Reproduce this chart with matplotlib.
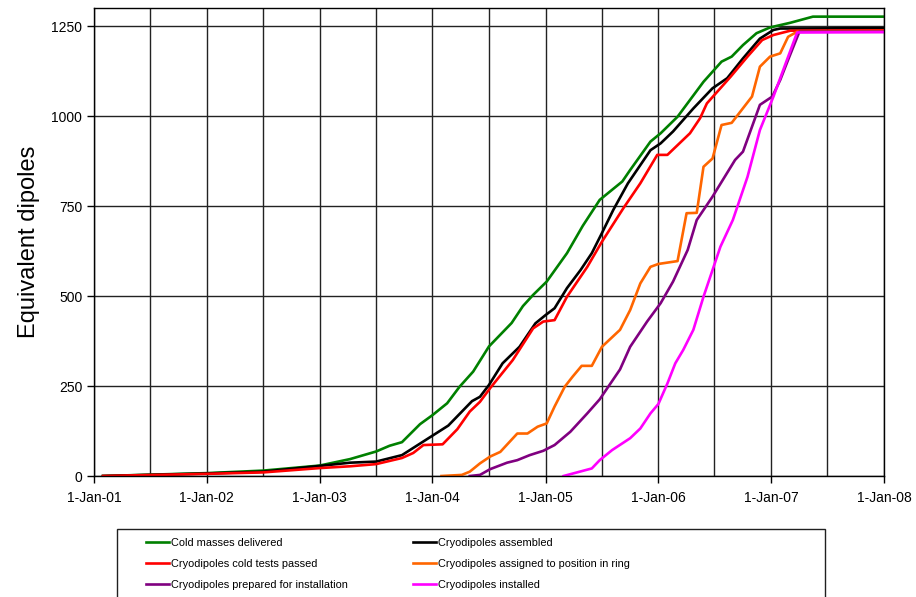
import datetime as dt
import matplotlib
matplotlib.use("Agg")
import matplotlib.pyplot as plt
from matplotlib.patches import Rectangle

# values: (decimal year, equivalent dipoles)
green_yr = [2001.08, 2001.65, 2002.0, 2002.5, 2003.0, 2003.27, 2003.5, 2003.62, 2003.73, 2003.89,
            2004.0, 2004.13, 2004.24, 2004.36, 2004.5, 2004.7, 2004.8, 2004.89, 2005.01, 2005.19,
            2005.33, 2005.48, 2005.68, 2005.75, 2005.93, 2006.02, 2006.17, 2006.4, 2006.56,
            2006.65, 2006.75, 2006.87, 2006.99, 2007.17, 2007.37, 2008.0]
green_val = [0, 5, 8, 15, 29, 47, 68, 84, 94, 144,
             169, 202, 248, 290, 360, 425, 472, 503, 540, 619,
             695, 767, 818, 850, 929, 952, 998, 1095, 1151,
             1165, 1197, 1230, 1246, 1259, 1276, 1276]

black_yr = [2001.08, 2002.0, 2002.5, 2003.0, 2003.27, 2003.5, 2003.73, 2004.0, 2004.14, 2004.35,
            2004.42, 2004.5, 2004.62, 2004.77, 2004.91, 2005.0, 2005.08, 2005.19, 2005.31, 2005.41,
            2005.5, 2005.6, 2005.73, 2005.93, 2006.02, 2006.13, 2006.31, 2006.48, 2006.61, 2006.75,
            2006.9, 2007.02, 2007.08, 2008.0]
black_val = [0, 7, 12, 28, 37, 40, 58, 112, 140, 208,
             220, 253, 313, 359, 424, 447, 466, 522, 572, 619,
             675, 739, 813, 905, 924, 957, 1021, 1077, 1105, 1160,
             1215, 1239, 1243, 1244]

red_yr = [2001.08, 2002.0, 2002.5, 2003.0, 2003.27, 2003.5, 2003.73, 2003.83, 2003.92, 2004.09,
          2004.22, 2004.33, 2004.42, 2004.51, 2004.71, 2004.89, 2004.98, 2005.08, 2005.19, 2005.37,
          2005.5, 2005.69, 2005.84, 2005.99, 2006.08, 2006.28, 2006.37, 2006.43, 2006.64, 2006.79,
          2006.92, 2007.02, 2007.17, 2008.0]
red_val = [0, 6, 10, 22, 27, 33, 50, 64, 86, 88,
           130, 179, 206, 244, 322, 410, 429, 433, 498, 581,
           651, 744, 813, 892, 892, 952, 994, 1035, 1109, 1165,
           1211, 1225, 1237, 1238]

orange_yr = [2004.08, 2004.26, 2004.33, 2004.42, 2004.51, 2004.6, 2004.75, 2004.84, 2004.93, 2005.01,
             2005.08, 2005.17, 2005.24, 2005.32, 2005.41, 2005.5, 2005.66, 2005.75, 2005.84, 2005.93,
             2006.0, 2006.17, 2006.25, 2006.34, 2006.4, 2006.48, 2006.56, 2006.65, 2006.83, 2006.9,
             2006.99, 2007.08, 2007.15, 2007.23, 2008.0]
orange_val = [0, 3, 12, 35, 54, 67, 118, 118, 137, 146,
              193, 248, 276, 306, 306, 359, 406, 461, 535, 581,
              589, 597, 730, 731, 859, 882, 975, 981, 1054, 1137,
              1165, 1174, 1220, 1234, 1236]

purple_yr = [2004.33, 2004.42, 2004.51, 2004.66, 2004.75, 2004.86, 2004.98, 2005.08, 2005.22, 2005.37,
             2005.48, 2005.66, 2005.75, 2005.9, 2006.02, 2006.13, 2006.26, 2006.34, 2006.48, 2006.68,
             2006.75, 2006.9, 2007.01, 2007.08, 2007.15, 2007.25, 2008.0]
purple_val = [0, 3, 19, 37, 44, 58, 70, 86, 123, 174,
              213, 296, 359, 429, 480, 540, 628, 711, 776, 878,
              901, 1031, 1054, 1100, 1156, 1234, 1234]

pink_yr = [2005.16, 2005.41, 2005.48, 2005.59, 2005.75, 2005.84, 2005.93, 2006.0, 2006.08, 2006.15,
           2006.22, 2006.31, 2006.4, 2006.55, 2006.66, 2006.79, 2006.9, 2007.02, 2007.14, 2007.23, 2008.0]
pink_val = [0, 21, 44, 72, 105, 132, 174, 200, 257, 313,
            350, 406, 498, 637, 711, 831, 961, 1054, 1156, 1232, 1233]

labels = ["Cold masses delivered", "Cryodipoles assembled",
          "Cryodipoles cold tests passed", "Cryodipoles assigned to position in ring",
          "Cryodipoles prepared for installation", "Cryodipoles installed"]
colors = ["#008000", "#000000", "#FF0000", "#FF6600", "#800080", "#FF00FF"]

tick_years = [2001, 2002, 2003, 2004, 2005, 2006, 2007, 2008]
tick_labels = ["1-Jan-01", "1-Jan-02", "1-Jan-03", "1-Jan-04",
               "1-Jan-05", "1-Jan-06", "1-Jan-07", "1-Jan-08"]
y_ticks = [0, 250, 500, 750, 1000, 1250]


def to_date(yr):
    y = int(yr)
    start = dt.datetime(y, 1, 1)
    days = (dt.datetime(y + 1, 1, 1) - start).days
    return start + dt.timedelta(days=(yr - y) * days)


plt.rcParams['font.family'] = ['Liberation Sans', 'DejaVu Sans']

fig = plt.figure(figsize=(9.16, 5.97), dpi=100)
ax = fig.add_axes([94 / 916, 121 / 597, 790 / 916, 468 / 597])

series = [(green_yr, green_val), (black_yr, black_val), (red_yr, red_val),
          (orange_yr, orange_val), (purple_yr, purple_val), (pink_yr, pink_val)]
handles = []
for (xs, ys), c, lab in zip(series, colors, labels):
    h, = ax.plot([to_date(v) for v in xs], ys, color=c, lw=1.9, label=lab, solid_joinstyle='round')
    handles.append(h)

ax.set_xlim(dt.datetime(2001, 1, 1), dt.datetime(2008, 1, 1))
ax.set_ylim(0, 1300)

ax.set_xticks([dt.datetime(y, 1, 1) for y in tick_years])
ax.set_xticklabels(tick_labels, fontsize=10)
ax.set_xticks([dt.datetime(y, 7, 1) for y in tick_years[:-1]], minor=True)
ax.set_yticks(y_ticks)
ax.set_yticklabels([str(v) for v in y_ticks], fontsize=10)
ax.tick_params(axis='both', which='major', direction='out', length=5, width=1, color='black')
ax.tick_params(axis='x', which='minor', length=0)
ax.tick_params(axis='x', pad=6)

ax.grid(True, which='both', axis='x', color='#222222', lw=1.0)
ax.grid(True, which='major', axis='y', color='#222222', lw=1.0)
ax.set_axisbelow(True)
for s in ax.spines.values():
    s.set_color('black')
    s.set_linewidth(1)

ax.set_ylabel("Equivalent dipoles", fontsize=17)
ax.yaxis.set_label_coords(-0.068, 0.5)

# legend box (runs off the bottom of the figure)
fig.patches.append(Rectangle((117 / 916, -0.05), (825 - 117) / 916, (597 - 529) / 597 + 0.05,
                             transform=fig.transFigure, fill=False, edgecolor='#202020', lw=1))
order = [0, 2, 4, 1, 3, 5]
fig.legend([handles[i] for i in order], [labels[i] for i in order], ncol=2,
           loc='upper left', bbox_to_anchor=(146 / 916, 1 - 538 / 597), frameon=False,
           borderpad=0, borderaxespad=0, handlelength=2.1, handletextpad=0.2,
           columnspacing=5.9, labelspacing=1.0,
           prop={'family': ['Liberation Sans', 'DejaVu Sans'], 'size': 7.9})

fig.savefig("out.png", dpi=100)
